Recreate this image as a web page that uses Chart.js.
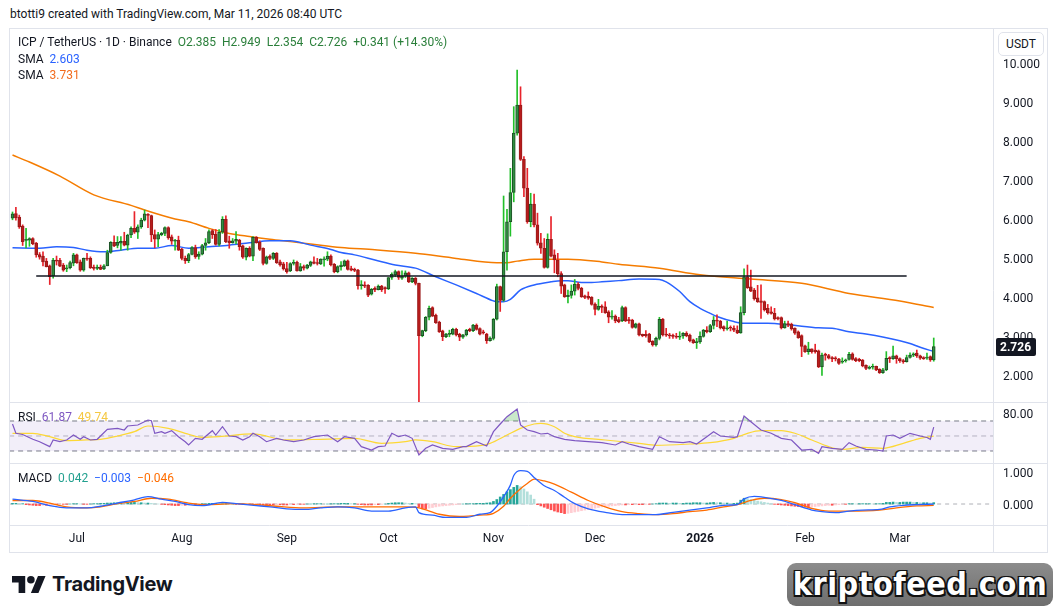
<!DOCTYPE html>
<html>
<head>
<meta charset="utf-8">
<script src="https://cdn.jsdelivr.net/npm/chart.js@4.4.1/dist/chart.umd.min.js"></script>
<style>
  body { margin: 0; width: 1057px; height: 613px; background: #fff; overflow: hidden; position: relative;
         font-family: Roboto, "Liberation Sans", sans-serif; color: #131722; }
  #hdr { position: absolute; left: 10px; top: 7px; font-size: 12px; }
  #frame { position: absolute; left: 9px; top: 28px; width: 1039px; height: 525px; border: 1px solid #e0e3eb; box-sizing: border-box; }
  #frame canvas { position: absolute; left: 0; top: 0; }
  .leg { position: absolute; left: 18px; font-size: 12px; white-space: pre; }
  #usdt { position: absolute; left: 998px; top: 32px; width: 46px; height: 24px; border: 1px solid #e0e3eb; border-radius: 5px;
          box-sizing: border-box; font-size: 12px; text-align: center; line-height: 22px; background: #fff; }
  #logo { position: absolute; left: 12px; top: 572px; display: flex; align-items: center; }
  #logo b { font-family: Inter, Roboto, sans-serif; font-weight: 700; font-size: 20px; margin-left: 6px; letter-spacing: -0.3px; }
  #wm { position: absolute; left: 787px; top: 563px; width: 266px; height: 43px; border-radius: 9px;
        background: linear-gradient(#8c8c8c, #6e6e6e); text-align: center; overflow: hidden; }
  #wm span { font: bold 32px "DejaVu Sans Condensed", "Liberation Sans", sans-serif; color: #fff; line-height: 43px; letter-spacing: 0.5px;
             text-shadow: -1.5px -1.5px 0 #111, 1.5px -1.5px 0 #111, -1.5px 1.5px 0 #111, 2px 2px 0 #111; }
</style>
</head>
<body>
<div id="hdr">btotti9 created with TradingView.com, Mar 11, 2026 08:40 UTC</div>
<div id="frame"><canvas id="chart" width="1037" height="523"></canvas></div>
<div class="leg" style="top:35px">ICP / TetherUS · 1D · Binance  <span id="ohlc" style="color:#2a7f3a"></span></div>
<div class="leg" style="top:52px">SMA  <span id="smaA" style="color:#2962ff"></span></div>
<div class="leg" style="top:68px">SMA  <span id="smaB" style="color:#f26b1d"></span></div>
<div class="leg" style="top:410px">RSI  <span id="rsiA" style="color:#7e57c2"></span>  <span id="rsiB" style="color:#f5c842"></span></div>
<div class="leg" style="top:471px">MACD  <span id="mH" style="color:#22a08f"></span>  <span id="mM" style="color:#2962ff"></span>  <span id="mS" style="color:#ff6d00"></span></div>
<div id="usdt">USDT</div>
<div id="logo">
  <svg width="34" height="17" viewBox="0 0 36 18"><path fill="#131722" d="M14 18H7V7H0V0h14v18zM28 18h-8l7.5-18h8L28 18z"/><circle fill="#131722" cx="20" cy="4" r="4"/></svg>
  <b>TradingView</b>
</div>
<div id="wm"><span>kriptofeed.com</span></div>
<script>
// daily candles, index 0 = 12 Jun 2025 ... 272 = 11 Mar 2026
const opens = [6.02,6.14,6.05,5.82,5.45,5.46,5.50,5.38,5.09,5.05,
  4.92,4.80,4.54,4.95,4.94,4.82,4.72,4.75,4.87,5.08,
  4.90,4.69,5.00,4.99,4.77,4.73,4.77,4.72,4.80,5.14,
  5.40,5.32,5.38,5.43,5.33,5.59,5.76,5.66,5.80,5.97,
  6.12,6.09,5.60,5.48,5.60,5.63,5.78,5.54,5.43,5.46,
  5.23,4.99,4.93,5.09,5.27,5.04,5.10,5.32,5.39,5.70,
  5.61,5.35,5.66,5.99,5.44,5.39,5.43,5.46,5.31,5.02,
  5.25,5.05,5.53,5.40,5.25,4.86,5.05,4.99,5.12,4.90,
  4.85,4.73,4.67,4.86,4.89,4.67,4.78,4.74,4.81,4.90,
  4.87,4.85,4.95,4.97,5.05,4.84,4.65,4.78,4.80,4.93,
  4.73,4.71,4.69,4.29,4.31,4.30,4.07,4.22,4.19,4.28,
  4.24,4.21,4.50,4.57,4.65,4.48,4.54,4.62,4.39,4.48,
  4.35,3.01,3.14,3.48,3.73,3.53,3.36,3.13,2.98,3.04,
  3.05,3.17,3.04,2.97,3.03,3.17,3.14,3.28,3.19,3.10,
  3.05,2.88,2.94,3.43,4.27,3.91,5.16,5.93,6.68,8.20,
  8.92,7.53,6.79,5.93,6.38,5.85,5.39,5.25,4.76,5.48,
  5.08,4.95,4.60,4.31,4.01,4.04,4.15,4.33,4.22,4.03,
  4.02,3.99,3.82,3.68,3.77,3.75,3.62,3.48,3.51,3.42,
  3.39,3.73,3.42,3.41,3.22,3.31,3.04,3.04,3.05,2.87,
  2.77,2.94,3.43,3.05,3.03,3.02,3.00,2.97,3.00,3.07,
  3.02,2.90,2.83,2.85,2.99,3.15,3.11,3.27,3.41,3.38,
  3.24,3.18,3.21,3.20,3.15,3.08,3.60,4.52,4.26,4.18,
  3.98,3.90,3.88,3.71,3.62,3.58,3.47,3.47,3.21,3.32,
  3.30,3.20,3.11,3.01,2.75,2.60,2.67,2.64,2.62,2.21,
  2.53,2.50,2.45,2.44,2.41,2.33,2.36,2.40,2.54,2.42,
  2.40,2.38,2.25,2.17,2.20,2.22,2.15,2.06,2.13,2.45,
  2.42,2.49,2.42,2.37,2.34,2.45,2.51,2.56,2.49,2.45,
  2.43,2.47,2.385];
const highs = [6.18,6.30,6.10,5.85,5.76,5.52,5.52,5.40,5.14,5.16,
  4.99,4.82,4.99,5.05,4.99,4.86,4.82,4.92,5.12,5.10,
  4.95,5.00,5.12,5.03,4.82,4.82,4.82,4.83,5.20,5.42,
  5.57,5.55,5.55,5.66,5.61,5.80,6.19,5.85,6.02,6.23,
  6.14,6.10,5.72,5.66,5.66,5.80,5.80,5.59,5.48,5.56,
  5.25,5.05,5.12,5.29,5.33,5.16,5.35,5.50,5.72,5.73,
  5.73,5.73,6.06,6.08,5.56,5.50,5.68,5.48,5.33,5.26,
  5.29,5.55,5.55,5.44,5.26,5.05,5.08,5.14,5.14,4.95,
  4.89,4.89,4.88,4.95,4.92,4.86,4.82,4.84,4.92,5.03,
  4.99,4.98,5.03,5.16,5.08,4.86,4.80,4.91,4.95,4.95,
  4.79,4.74,4.71,4.42,4.39,4.32,4.22,4.26,4.31,4.30,
  4.26,4.50,4.62,4.69,4.67,4.67,4.67,4.64,4.50,4.50,
  4.36,3.15,3.50,3.77,3.75,3.56,3.38,3.15,3.07,3.15,
  3.20,3.20,3.07,3.04,3.17,3.20,3.30,3.31,3.21,3.15,
  3.07,2.98,3.45,4.33,4.28,6.59,6.25,7.30,8.88,9.82,
  9.39,7.60,7.30,6.66,6.64,6.15,5.63,5.50,5.62,6.06,
  5.21,5.12,4.65,4.33,4.18,4.31,4.45,4.37,4.25,4.05,
  4.13,4.01,3.85,3.94,3.80,3.88,3.65,3.65,3.54,3.48,
  3.77,3.75,3.48,3.43,3.33,3.33,3.05,3.14,3.07,2.88,
  2.97,3.48,3.45,3.20,3.07,3.05,3.07,3.11,3.09,3.11,
  3.05,2.92,2.94,3.11,3.17,3.24,3.30,3.50,3.54,3.40,
  3.26,3.38,3.26,3.26,3.26,3.75,4.72,4.82,4.69,4.22,
  4.30,4.31,3.90,3.81,3.75,3.71,3.49,3.49,3.38,3.38,
  3.33,3.21,3.13,3.03,2.77,2.84,2.67,2.79,2.64,2.56,
  2.56,2.53,2.47,2.47,2.43,2.44,2.41,2.58,2.57,2.45,
  2.43,2.40,2.26,2.23,2.28,2.23,2.16,2.17,2.60,2.47,
  2.74,2.51,2.44,2.40,2.51,2.57,2.57,2.64,2.51,2.47,
  2.56,2.49,2.949];
const lows = [5.98,5.97,5.76,5.32,5.26,5.30,5.34,5.02,4.97,4.80,
  4.77,4.32,4.48,4.82,4.78,4.66,4.65,4.72,4.80,4.86,
  4.66,4.66,4.94,4.73,4.69,4.70,4.70,4.70,4.80,5.12,
  5.29,5.26,5.20,5.31,5.20,5.52,5.63,5.50,5.76,5.95,
  5.78,5.42,5.26,5.29,5.57,5.57,5.48,5.35,5.20,5.19,
  4.95,4.86,4.88,5.08,4.99,4.97,5.08,5.20,5.37,5.50,
  5.33,5.31,5.63,5.39,5.25,5.38,5.36,5.20,4.99,4.95,
  5.03,4.93,5.38,5.19,4.82,4.84,4.96,4.96,4.86,4.79,
  4.69,4.61,4.65,4.82,4.66,4.66,4.69,4.72,4.78,4.85,
  4.82,4.83,4.79,4.93,4.80,4.62,4.62,4.69,4.78,4.69,
  4.67,4.65,4.20,4.20,4.24,4.01,4.05,4.14,4.18,4.14,
  4.09,4.19,4.45,4.52,4.45,4.45,4.50,4.37,4.37,4.31,
  1.31,2.98,3.11,3.41,3.50,3.32,3.09,2.88,2.96,2.98,
  3.03,3.00,2.88,2.94,3.00,3.11,3.11,3.15,3.03,3.05,
  2.81,2.87,2.90,3.41,3.63,3.89,4.69,5.56,6.44,8.15,
  7.50,6.57,5.89,5.80,5.80,5.33,5.12,4.74,4.74,5.03,
  4.62,4.52,4.09,3.99,3.85,3.97,4.05,4.18,3.99,3.96,
  3.94,3.79,3.54,3.66,3.60,3.58,3.34,3.43,3.34,3.34,
  3.37,3.37,3.32,3.20,3.20,3.00,2.98,2.97,2.83,2.74,
  2.74,2.90,3.00,2.99,2.94,2.94,2.94,2.91,2.94,2.98,
  2.85,2.81,2.68,2.81,2.97,3.08,3.09,3.18,3.24,3.18,
  3.13,3.15,3.13,3.11,3.06,3.07,3.54,4.22,4.14,3.92,
  3.86,3.45,3.64,3.56,3.56,3.41,3.41,3.18,3.20,3.24,
  3.15,3.04,2.94,2.47,2.58,2.53,2.56,2.56,2.19,1.99,
  2.38,2.41,2.34,2.36,2.27,2.30,2.33,2.38,2.38,2.34,
  2.34,2.21,2.14,2.15,2.15,2.11,2.04,2.04,2.11,2.32,
  2.40,2.30,2.32,2.30,2.33,2.43,2.47,2.45,2.40,2.40,
  2.40,2.35,2.354];
const closes = [6.13,6.03,5.80,5.42,5.48,5.50,5.36,5.08,5.02,4.90,
  4.78,4.52,4.95,4.92,4.79,4.69,4.75,4.88,5.08,4.88,
  4.69,4.99,4.97,4.75,4.73,4.77,4.71,4.80,5.14,5.40,
  5.31,5.40,5.43,5.33,5.59,5.76,5.66,5.80,5.97,6.13,
  6.09,5.59,5.48,5.60,5.63,5.78,5.52,5.43,5.45,5.20,
  4.99,4.93,5.09,5.27,5.03,5.10,5.32,5.39,5.68,5.60,
  5.35,5.66,5.99,5.42,5.39,5.44,5.48,5.29,5.02,5.25,
  5.05,5.53,5.39,5.22,4.86,5.03,4.99,5.12,4.88,4.82,
  4.72,4.65,4.86,4.89,4.67,4.78,4.74,4.82,4.90,4.86,
  4.86,4.97,4.98,5.05,4.82,4.65,4.78,4.82,4.93,4.71,
  4.69,4.68,4.29,4.31,4.28,4.05,4.20,4.18,4.28,4.19,
  4.21,4.50,4.58,4.65,4.50,4.54,4.62,4.39,4.48,4.35,
  3.01,3.14,3.48,3.71,3.51,3.34,3.11,2.98,3.05,3.06,
  3.17,3.03,2.97,3.03,3.15,3.14,3.28,3.17,3.05,3.08,
  2.88,2.95,3.43,4.27,3.91,5.16,5.93,6.68,8.20,8.92,
  7.53,6.79,5.93,6.38,5.85,5.38,5.25,4.76,5.48,5.05,
  4.95,4.60,4.28,4.01,4.04,4.15,4.33,4.22,4.01,3.99,
  3.97,3.81,3.68,3.77,3.73,3.60,3.48,3.51,3.39,3.37,
  3.73,3.39,3.39,3.22,3.31,3.03,3.01,3.01,2.85,2.77,
  2.94,3.43,3.03,3.02,3.00,2.99,2.97,3.00,3.07,3.00,
  2.88,2.83,2.85,2.99,3.15,3.11,3.27,3.41,3.38,3.21,
  3.18,3.21,3.20,3.15,3.08,3.60,4.52,4.24,4.15,3.96,
  3.88,3.86,3.67,3.60,3.58,3.44,3.44,3.21,3.32,3.28,
  3.18,3.07,2.96,2.73,2.60,2.67,2.60,2.60,2.21,2.51,
  2.50,2.43,2.41,2.41,2.30,2.36,2.39,2.53,2.40,2.37,
  2.37,2.23,2.17,2.20,2.22,2.13,2.06,2.13,2.43,2.42,
  2.49,2.42,2.37,2.34,2.45,2.51,2.54,2.49,2.43,2.42,
  2.46,2.385,2.726];

// moving averages (day index -> value)
const smaFastDays = [0,8,13,18,22,27,32,37,42,47,52,58,64,70,76,82,88,94,97,101,107,113,119,125,131,137,142,143,145,147,
  150,154,159,162,164,168,171,174,179,185,191,193,197,200,203,206,208,213,216,223,230,238,242,247,252,262,265,268,272];
const smaFastValues = [5.26,5.25,5.29,5.27,5.20,5.16,5.20,5.25,5.25,5.32,5.25,5.29,5.33,5.39,5.44,5.44,5.33,5.22,5.14,5.08,
  4.95,4.82,4.74,4.52,4.31,4.09,3.90,3.88,3.88,3.94,4.18,4.31,4.39,4.42,4.42,4.37,4.37,4.39,4.42,4.46,
  4.45,4.39,4.14,3.88,3.71,3.58,3.50,3.37,3.33,3.33,3.28,3.21,3.20,3.11,3.05,2.88,2.81,2.71,2.603];
const smaSlowDays = [0,5,14,24,35,39,48,52,58,64,70,76,82,88,97,107,119,131,143,146,149,154,164,174,179,191,203,218,233,247,262,272];
const smaSlowValues = [7.64,7.46,7.10,6.62,6.35,6.23,6.00,5.93,5.76,5.63,5.55,5.48,5.42,5.36,5.27,5.21,5.12,4.99,4.88,4.88,
  4.92,4.97,4.97,4.90,4.84,4.74,4.57,4.46,4.35,4.09,3.90,3.731];
const hLineDays = [7, 264];
const hLineLevel = 4.54;

// RSI pane
const rsiDays = [0,1,3,6,8,11,12,14,16,18,20,21,23,25,28,31,33,34,37,40,41,42,44,45,47,49,51,52,54,56,
  59,60,62,64,66,68,70,71,73,75,78,80,83,86,89,93,96,98,101,103,106,108,110,112,114,116,118,120,122,124,
  127,130,133,134,137,140,142,144,146,149,150,152,154,156,158,160,163,166,170,174,178,180,182,185,189,191,194,198,200,202,
  205,207,209,213,214,216,218,221,224,227,230,233,236,238,239,242,245,247,249,252,255,257,258,260,262,265,268,270,271,272];
const rsiValues = [66,53.6,52,45.6,42.4,35.8,44.7,42.4,44.7,51.3,45.6,49,44.7,45.6,58.9,60.2,58,63.3,64.7,71.3,
  70.4,53.6,55.8,53.6,57.1,49.1,42.4,38,46.9,45.6,57.1,51.3,62.4,50,49.1,44.7,49.1,53.6,49.1,42.4,
  46.9,44.7,42.4,44.7,49.1,51.3,42.4,49.1,46.9,35.8,31.3,35.8,36.7,53.6,49.1,51.3,46.9,24.7,33.6,38,
  33.6,32.2,35.8,35.8,42.4,36.7,55.8,66,75.8,86,64.7,58,55.8,52.7,53.6,49.1,45.6,43.8,42.4,41.1,
  38,42.4,39.3,35.8,32.2,49.1,42.4,41.1,42.4,39.3,49.1,55.8,50,48.2,49.1,76.7,69.1,58,53.6,46.9,
  44.7,31.3,32.2,26.9,35.8,33.6,32.2,41.1,36.7,32.2,31.3,30,50,51.3,46.9,53.6,50,48,45.6,61.87];
const rsiMaDays = [0,6,11,16,22,26,31,36,40,46,51,56,61,71,81,91,101,109,116,119,124,131,138,141,146,150,154,156,160,163,
  166,175,185,190,200,206,213,217,221,227,231,236,241,245,251,257,263,268,272];
const rsiMaValues = [53.6,53.6,49.1,43.8,44.7,45.6,50,55.8,63.3,60.2,53.6,48.2,49.1,52.7,44.7,45.6,46.9,40.2,42.4,44.7,
  42.4,35.8,37.1,40.2,51.3,60.2,66,66.9,62.4,53.6,49.1,44.7,40.2,37.6,39.3,41.1,46.9,53.6,57.1,57.1,
  53.6,44.7,35.8,32.2,34.9,33.6,40.2,46.9,49.74];
const rsiLevels = [70, 50, 30];

// MACD pane
const macdDays = [0,6,11,16,22,26,31,36,40,44,48,52,56,62,66,72,76,81,86,91,96,101,106,111,116,119,120,124,128,134,
  138,141,143,145,147,148,150,152,154,157,160,163,166,170,175,180,185,190,195,200,205,210,214,216,219,222,227,231,236,239,
  243,247,251,256,259,263,267,272];
const macdValues = [0.15,0.08,-0.05,-0.12,-0.12,-0.07,0.03,0.13,0.23,0.15,0.08,-0.02,-0.05,0.05,0.01,-0.05,-0.09,-0.15,-0.17,-0.12,
  -0.09,-0.12,-0.22,-0.22,-0.12,-0.09,-0.27,-0.35,-0.42,-0.42,-0.32,-0.27,-0.07,0.23,0.59,0.89,1.04,1.02,0.83,0.57,
  0.42,0.21,0.01,-0.15,-0.26,-0.33,-0.33,-0.33,-0.26,-0.19,-0.12,-0.04,-0.02,0.16,0.24,0.21,0.11,-0.02,-0.19,-0.24,
  -0.27,-0.22,-0.19,-0.17,-0.09,-0.04,-0.02,-0.003];
const signalDays = [0,6,11,16,22,26,31,36,41,46,52,58,66,72,78,86,96,106,116,120,126,132,138,142,145,147,150,152,154,157,
  160,165,170,175,180,185,190,195,200,205,210,214,218,222,227,231,236,241,247,256,261,267,272];
const signalValues = [0.11,0.11,0.03,-0.09,-0.12,-0.09,0.01,0.08,0.18,0.15,0.03,-0.02,0.01,-0.02,-0.07,-0.12,-0.09,-0.09,-0.09,-0.12,
  -0.32,-0.39,-0.35,-0.29,-0.07,0.18,0.48,0.64,0.78,0.72,0.62,0.37,0.11,-0.09,-0.24,-0.30,-0.33,-0.30,-0.24,-0.19,
  -0.09,-0.02,0.11,0.18,0.14,0.04,-0.14,-0.22,-0.22,-0.19,-0.12,-0.06,-0.046];
const histValues = [0.02,0.02,0.01,0.01,-0.02,-0.03,-0.04,-0.05,-0.05,-0.04,-0.04,-0.03,
  -0.02,-0.02,-0.01,-0.01,-0.01,0.00,0.01,0.01,0.00,-0.01,-0.01,0.00,0.01,0.01,0.02,
  0.02,0.03,0.03,0.04,0.04,0.05,0.04,0.04,0.05,0.05,0.04,0.04,0.03,0.03,
  0.02,0.01,0.00,-0.01,-0.02,-0.03,-0.04,-0.05,-0.05,-0.04,-0.04,-0.03,-0.02,-0.02,-0.01,
  0.01,0.01,0.02,0.02,0.02,0.01,0.01,0.01,0.00,0.00,
  -0.01,-0.01,-0.02,-0.01,-0.01,-0.02,-0.02,-0.02,-0.03,-0.03,
  -0.03,-0.03,-0.02,-0.02,-0.03,-0.03,-0.02,-0.02,-0.01,-0.01,
  -0.01,0.00,0.00,0.01,0.01,0.01,0.00,0.00,0.01,0.01,
  0.01,0.02,0.02,0.02,0.01,0.01,-0.01,-0.02,-0.03,-0.03,-0.03,-0.02,-0.02,-0.01,0.00,
  0.02,0.03,0.04,0.04,0.04,0.03,0.02,0.02,0.01,
  -0.10,-0.15,-0.15,-0.13,-0.11,-0.09,-0.07,-0.06,-0.05,-0.04,-0.03,-0.02,-0.01,
  0.00,0.01,0.01,0.01,0.02,0.02,0.02,0.03,0.04,
  0.08,0.14,0.22,0.30,0.38,0.45,0.52,0.58,0.54,0.47,0.38,0.28,0.15,
  -0.02,-0.06,-0.10,-0.14,-0.18,-0.22,-0.25,-0.27,-0.30,-0.29,
  -0.27,-0.25,-0.23,-0.21,-0.19,-0.17,-0.15,-0.13,-0.11,-0.09,-0.08,-0.07,-0.06,-0.05,-0.04,-0.03,
  -0.03,-0.02,-0.02,-0.01,-0.02,-0.02,-0.01,-0.01,0.00,0.01,
  0.03,0.03,0.03,0.02,0.03,0.03,0.02,0.02,0.03,0.03,0.04,0.04,0.04,0.03,0.03,0.04,0.05,0.04,0.04,0.03,0.03,0.02,0.02,
  0.03,0.12,0.18,0.17,0.14,0.12,0.09,0.07,0.05,0.03,0.01,
  -0.01,-0.02,-0.03,-0.04,-0.05,-0.06,-0.07,-0.08,-0.09,-0.10,-0.10,-0.09,
  -0.08,-0.07,-0.06,-0.05,-0.04,-0.04,-0.03,-0.02,-0.01,-0.01,
  0.01,0.01,0.00,0.01,0.01,0.01,0.01,0.00,0.01,0.01,
  0.02,0.05,0.05,0.06,0.05,0.05,0.06,0.06,0.06,0.05,0.05,0.04,0.04,0.04,0.03,0.042];

// time axis: day index of month starts
const monthDays = [19, 50, 81, 111, 142, 172, 203, 234, 262];
const monthLabels = ['Jul', 'Aug', 'Sep', 'Oct', 'Nov', 'Dec', '2026', 'Feb', 'Mar'];
const priceTicks = [2, 3, 4, 5, 6, 7, 8, 9, 10];
const rsiTicks = [80];
const macdTicks = [0, 1];

const minus = v => (v < 0 ? '\u2212' : '') + Math.abs(v).toFixed(3);
const n = closes.length;
const chg = closes[n - 1] - closes[n - 2];
document.getElementById('ohlc').textContent =
  `O${opens[n-1].toFixed(3)}  H${highs[n-1].toFixed(3)}  L${lows[n-1].toFixed(3)}  C${closes[n-1].toFixed(3)}  +${chg.toFixed(3)} (+${(chg / closes[n-2] * 100).toFixed(2)}%)`;
document.getElementById('smaA').textContent = smaFastValues.at(-1).toFixed(3);
document.getElementById('smaB').textContent = smaSlowValues.at(-1).toFixed(3);
document.getElementById('rsiA').textContent = rsiValues.at(-1).toFixed(2);
document.getElementById('rsiB').textContent = rsiMaValues.at(-1).toFixed(2);
document.getElementById('mH').textContent = minus(histValues.at(-1));
document.getElementById('mM').textContent = minus(macdValues.at(-1));
document.getElementById('mS').textContent = minus(signalValues.at(-1));

const pts = (xs, ys) => xs.map((x, i) => ({x: x, y: ys[i]}));
const idx = closes.map((c, i) => i);
const up = idx.map(i => closes[i] >= opens[i]);
const histColors = histValues.map((v, i) => {
  const prev = i > 0 ? histValues[i - 1] : v;
  if (v >= 0) return v >= prev ? '#26a69a' : '#b2dfdb';
  return v <= prev ? '#ff5252' : '#ffcdd2';
});

Chart.defaults.font.family = 'Roboto, "Liberation Sans", sans-serif';
Chart.defaults.font.size = 12;
Chart.defaults.color = '#131722';

const chrome = {
  id: 'chrome',
  afterDraw(chart) {
    const {ctx, chartArea: a, scales: s} = chart;
    ctx.save();
    ctx.strokeStyle = '#e0e3eb';
    ctx.lineWidth = 1;
    for (const y of [s.rsi.top, s.macd.top, s.x.top]) {
      const yy = Math.round(y) + 0.5;
      ctx.beginPath(); ctx.moveTo(0, yy); ctx.lineTo(chart.width, yy); ctx.stroke();
    }
    const xx = Math.round(a.right) + 0.5;
    ctx.beginPath(); ctx.moveTo(xx, 0); ctx.lineTo(xx, chart.height); ctx.stroke();
    // last price tag
    const last = closes[n - 1];
    const py = Math.round(s.y.getPixelForValue(last));
    ctx.fillStyle = '#131722';
    ctx.beginPath(); ctx.roundRect(a.right + 3, py - 9, 40, 18, 2); ctx.fill();
    ctx.fillStyle = '#fff';
    ctx.font = 'bold 12px Roboto, sans-serif';
    ctx.textBaseline = 'middle';
    ctx.fillText(last.toFixed(3), a.right + 7, py + 1);
    ctx.restore();
  }
};

const flatLine = level => [{x: -1, y: level}, {x: 300, y: level}];
const fitY = s => { s.width = 54; s.paddingTop = 0; s.paddingBottom = 0; };
const noGrid = {display: false, drawTicks: false};

new Chart(document.getElementById('chart'), {
  data: {
    datasets: [
      {type: 'line', data: pts(hLineDays, [hLineLevel, hLineLevel]), yAxisID: 'y', borderColor: '#131722', borderWidth: 1.5, pointRadius: 0, order: -1},
      {type: 'bar', data: idx.map(i => ({x: i, y: [lows[i], highs[i]]})), yAxisID: 'y', grouped: false, barThickness: 1,
        backgroundColor: up.map(u => u ? '#22c02a' : '#e8232b'), order: 1},
      {type: 'bar', data: idx.map(i => ({x: i, y: [opens[i], closes[i]]})), yAxisID: 'y', grouped: false, barThickness: 3, minBarLength: 1,
        backgroundColor: up.map(u => u ? '#2f8f40' : '#b71c1c'), borderColor: up.map(u => u ? '#1d4f25' : '#9a1a1a'),
        borderWidth: 1, borderSkipped: false, order: 0},
      {type: 'line', data: pts(smaFastDays, smaFastValues), yAxisID: 'y', borderColor: '#2962ff', borderWidth: 1.5, pointRadius: 0,
        cubicInterpolationMode: 'monotone', order: 2},
      {type: 'line', data: pts(smaSlowDays, smaSlowValues), yAxisID: 'y', borderColor: '#f57c00', borderWidth: 1.5, pointRadius: 0,
        cubicInterpolationMode: 'monotone', order: 2},
      // RSI
      {type: 'line', data: flatLine(rsiLevels[0]), yAxisID: 'rsi', borderColor: '#787b86', borderWidth: 1, borderDash: [5, 4],
        pointRadius: 0, fill: {value: rsiLevels[2]}, backgroundColor: 'rgba(126,87,194,0.1)', order: 5},
      {type: 'line', data: flatLine(rsiLevels[1]), yAxisID: 'rsi', borderColor: 'rgba(120,123,134,0.5)', borderWidth: 1, borderDash: [5, 4], pointRadius: 0, order: 5},
      {type: 'line', data: flatLine(rsiLevels[2]), yAxisID: 'rsi', borderColor: '#787b86', borderWidth: 1, borderDash: [5, 4], pointRadius: 0, order: 5},
      {type: 'line', data: pts(rsiMaDays, rsiMaValues), yAxisID: 'rsi', borderColor: '#fdd835', borderWidth: 1.2, pointRadius: 0,
        cubicInterpolationMode: 'monotone', order: 4},
      {type: 'line', data: pts(rsiDays, rsiValues), yAxisID: 'rsi', borderColor: '#7e57c2', borderWidth: 1.2, pointRadius: 0, order: 3,
        fill: {target: {value: rsiLevels[0]}, above: 'rgba(76,175,80,0.3)', below: 'rgba(0,0,0,0)'}},
      {type: 'line', data: pts(rsiDays, rsiValues), yAxisID: 'rsi', borderColor: 'rgba(0,0,0,0)', borderWidth: 0, pointRadius: 0, order: 3,
        fill: {target: {value: rsiLevels[2]}, above: 'rgba(0,0,0,0)', below: 'rgba(242,54,69,0.25)'}},
      // MACD
      {type: 'line', data: flatLine(0), yAxisID: 'macd', borderColor: 'rgba(120,123,134,0.6)', borderWidth: 1, borderDash: [4, 4], pointRadius: 0, order: 6},
      {type: 'bar', data: idx.map(i => ({x: i, y: histValues[i]})), yAxisID: 'macd', grouped: false, barThickness: 2,
        backgroundColor: histColors, order: 5},
      {type: 'line', data: pts(macdDays, macdValues), yAxisID: 'macd', borderColor: '#2962ff', borderWidth: 1.3, pointRadius: 0,
        cubicInterpolationMode: 'monotone', order: 3},
      {type: 'line', data: pts(signalDays, signalValues), yAxisID: 'macd', borderColor: '#ff6d00', borderWidth: 1.3, pointRadius: 0,
        cubicInterpolationMode: 'monotone', order: 3}
    ]
  },
  options: {
    responsive: false,
    animation: false,
    layout: {padding: {top: 1, left: 0, right: 0, bottom: 0}},
    plugins: {legend: {display: false}, tooltip: {enabled: false}},
    scales: {
      x: {
        type: 'linear', min: -0.74, max: 289.5, offset: false, grid: {display: false, drawTicks: false, offset: false}, border: {display: false},
        afterBuildTicks: s => { s.ticks = monthDays.map(v => ({value: v})); },
        afterFit: s => { s.height = 27; s.paddingLeft = 0; s.paddingRight = 0; },
        ticks: {
          autoSkip: false, maxRotation: 0, padding: 7,
          callback: v => monthLabels[monthDays.indexOf(v)],
          font: c => ({size: 12, weight: c.tick && monthLabels[monthDays.indexOf(c.tick.value)] === '2026' ? 'bold' : 'normal'})
        }
      },
      y: {
        type: 'linear', position: 'right', stack: 'panes', stackWeight: 372, min: 1.308, max: 10.846,
        grid: noGrid, border: {display: false}, afterFit: fitY,
        afterBuildTicks: s => { s.ticks = priceTicks.map(v => ({value: v})); },
        ticks: {padding: 10, labelOffset: 2, callback: v => v.toFixed(3)}
      },
      rsi: {
        type: 'linear', position: 'right', stack: 'panes', stackWeight: 61, min: 14, max: 95.33,
        grid: noGrid, border: {display: false}, afterFit: fitY,
        afterBuildTicks: s => { s.ticks = rsiTicks.map(v => ({value: v})); },
        ticks: {padding: 10, labelOffset: 2, callback: v => v.toFixed(2)}
      },
      macd: {
        type: 'linear', position: 'right', stack: 'panes', stackWeight: 62, min: -0.656, max: 1.281,
        grid: noGrid, border: {display: false}, afterFit: fitY,
        afterBuildTicks: s => { s.ticks = macdTicks.map(v => ({value: v})); },
        ticks: {padding: 10, labelOffset: 2, callback: v => v.toFixed(3)}
      }
    }
  },
  plugins: [chrome]
});
</script>
</body>
</html>
